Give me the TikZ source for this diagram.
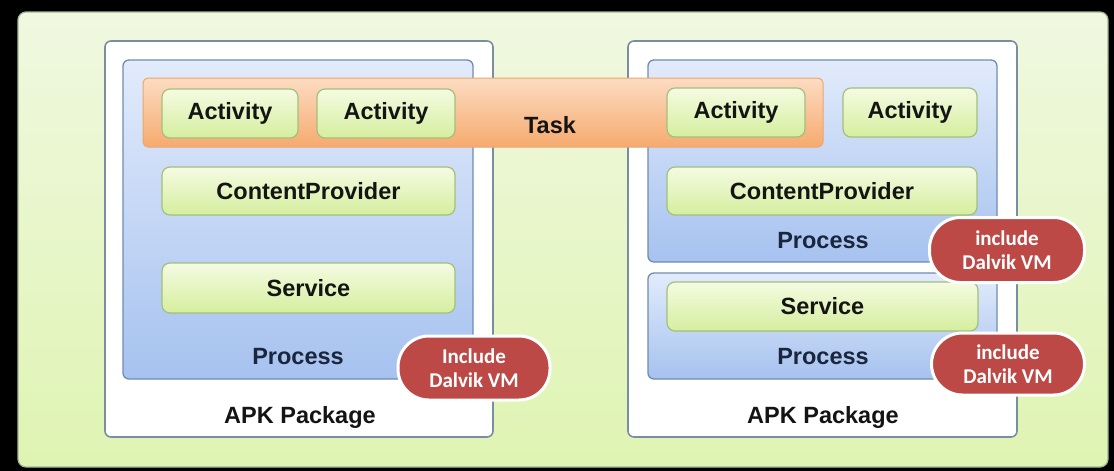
\documentclass[tikz,border=0pt]{standalone}
\usepackage{fontspec}
\setmainfont{Liberation Sans}
\newfontfamily\vmfont{Carlito}
\definecolor{bgtop}{HTML}{F0F8E0}
\definecolor{bgbot}{HTML}{DFF4B2}
\definecolor{outerline}{HTML}{A4B494}
\definecolor{apkline}{HTML}{7A8EA2}
\definecolor{proctop}{HTML}{E2EBFB}
\definecolor{procbot}{HTML}{A6C2EF}
\definecolor{procline}{HTML}{6F8CB2}
\definecolor{tasktop}{HTML}{FCDCC2}
\definecolor{taskbot}{HTML}{F6AA6E}
\definecolor{taskline}{HTML}{EFA56A}
\definecolor{comptop}{HTML}{F5FBE2}
\definecolor{compbot}{HTML}{D5EE9E}
\definecolor{compline}{HTML}{A2C07A}
\definecolor{vmred}{HTML}{BC4946}
\definecolor{textdark}{HTML}{141414}
\definecolor{procink}{HTML}{19263E}
\begin{document}
\begin{tikzpicture}[x=1pt,y=-1pt,
  every node/.style={inner sep=0pt, outer sep=0pt},
  bigfont/.style={font=\fontsize{23.5}{25}\selectfont\bfseries},
  frame/.style={rounded corners=8pt, draw=outerline, line width=1.2pt,
    top color=bgtop, bottom color=bgbot},
  apkbox/.style={rounded corners=6pt, draw=apkline, line width=1.6pt, fill=white},
  procbox/.style={rounded corners=6pt, draw=procline, line width=1.3pt,
    top color=proctop, bottom color=procbot},
  taskbar/.style={rounded corners=5pt, draw=taskline, line width=1pt,
    top color=tasktop, bottom color=taskbot},
  comp/.style={rounded corners=8pt, draw=compline, line width=1.2pt,
    top color=comptop, bottom color=compbot, bigfont, text=textdark},
  label/.style={bigfont, text=textdark, anchor=base},
  proclabel/.style={bigfont, text=procink, anchor=base},
  vmbadge/.style={rounded corners=31pt, draw=white, line width=3pt, fill=vmred,
    text=white, align=center, font=\vmfont\fontsize{21}{24}\selectfont\bfseries}
]
% backdrop and bounding box
\fill[black] (0,0) rectangle (1114,471);
\useasboundingbox (0,0) rectangle (1114,471);

% outer frame
\node[frame, minimum width=1090pt, minimum height=455pt] (outer) at (563,239.5) {};

% two APK packages
\node[apkbox, minimum width=388pt, minimum height=396pt] (apkL) at (299,239) {};
\node[apkbox, minimum width=389pt, minimum height=396pt] (apkR) at (822.5,239) {};

% processes
\node[procbox, minimum width=350pt, minimum height=319pt] (procL) at (298,219.5) {};
\node[procbox, minimum width=349pt, minimum height=202pt] (procRT) at (822.5,161) {};
\node[procbox, minimum width=349pt, minimum height=106pt] (procRB) at (822.5,326) {};

% task bar spanning both packages
\node[taskbar, minimum width=680pt, minimum height=69pt] (task) at (483,112.5) {};
\node[label] (tasklbl) at (550,133) {Task};

% components
\node[comp, minimum width=136pt, minimum height=49pt] (act1) at (230,113.5) {Activity};
\node[comp, minimum width=138pt, minimum height=49pt] (act2) at (386,113.5) {Activity};
\node[comp, minimum width=138pt, minimum height=49pt] (act3) at (736,112.5) {Activity};
\node[comp, minimum width=134pt, minimum height=49pt] (act4) at (910,112.5) {Activity};
\node[comp, minimum width=293pt, minimum height=48pt] (cpL) at (308.5,191) {ContentProvider};
\node[comp, minimum width=310pt, minimum height=48pt] (cpR) at (822,191) {ContentProvider};
\node[comp, minimum width=293pt, minimum height=50pt] (srvL) at (308.5,288) {Service};
\node[comp, minimum width=311pt, minimum height=49pt] (srvR) at (822.5,306.5) {Service};

% labels
\node[proclabel] (plL) at (298,364) {Process};
\node[proclabel] (plRT) at (823,248) {Process};
\node[proclabel] (plRB) at (823,364) {Process};
\node[label] (apkLlbl) at (300,423) {APK Package};
\node[label] (apkRlbl) at (823,423) {APK Package};

% Dalvik VM badges
\node[vmbadge, minimum width=152pt, minimum height=64pt] (vmL) at (474,368) {Include\\Dalvik VM};
\node[vmbadge, minimum width=155pt, minimum height=65pt] (vmRT) at (1007,250) {include\\Dalvik VM};
\node[vmbadge, minimum width=153pt, minimum height=62pt] (vmRB) at (1008,364) {include\\Dalvik VM};
\end{tikzpicture}
\end{document}
